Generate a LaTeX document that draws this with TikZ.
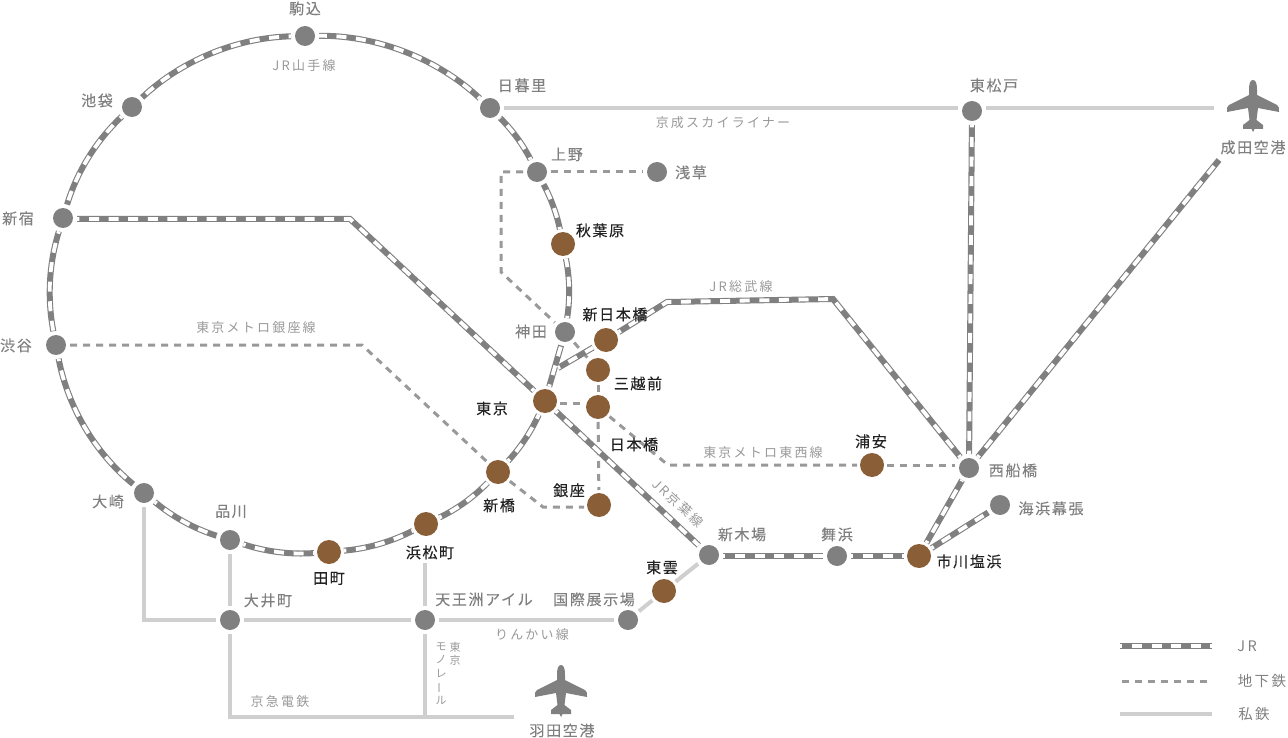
\documentclass[tikz,border=0pt]{standalone}
\usepackage{fontspec}
\usepackage{graphicx}
\setmainfont{Noto Sans CJK JP}
\newfontfamily\jpa[LetterSpace=11,FakeBold=0.12]{Noto Sans CJK JP}
\newfontfamily\jpd[LetterSpace=11,FakeBold=0.3]{Noto Sans CJK JP}
\newfontfamily\jpb[LetterSpace=17]{Noto Sans CJK JP}
\definecolor{stg}{HTML}{808080}
\definecolor{stb}{HTML}{8A5F38}
\definecolor{pvt}{HTML}{CFCFCF}
\definecolor{sub}{HTML}{999999}
\definecolor{txg}{HTML}{808080}
\definecolor{txd}{HTML}{222222}
\definecolor{txs}{HTML}{999999}
\tikzset{
 gs/.style={circle,fill=stg,minimum size=20pt,inner sep=0,outer sep=4pt},
 bs/.style={circle,fill=stb,minimum size=24pt,inner sep=0,outer sep=3pt},
 jr/.style={draw=stg,line width=6pt,postaction={draw=white,line width=3.8pt,dash pattern=on 10pt off 9.6pt,dash phase=7.6pt}},
 subw/.style={draw=sub,line width=3pt,dash pattern=on 7pt off 6pt},
 pv/.style={draw=pvt,line width=4pt},
 lg/.style={font=\jpa\fontsize{15}{15}\selectfont,text=txg,inner sep=0,yshift=-0.4pt},
 ld/.style={font=\jpd\fontsize{15}{15}\selectfont,text=txd,inner sep=0,yshift=-0.4pt},
 ls/.style={font=\jpb\fontsize{13}{13}\selectfont,text=txs,inner sep=0},
 lk/.style={font=\jpb\fontsize{14.5}{14.5}\selectfont,text=txg,inner sep=0},
 plane/.pic={\fill[stg] (0,0) .. controls (3,0) and (4,4) .. (4,10) -- (4,15) -- (24,25) .. controls (26,26) and (26,28) .. (26,32) -- (5,28) -- (4,36) -- (3.5,40) -- (10,45) -- (10,49) -- (1.5,49) -- (0,52) -- (-1.5,49) -- (-10,49) -- (-10,45) -- (-3.5,40) -- (-4,36) -- (-5,28) -- (-26,32) .. controls (-26,28) and (-26,26) .. (-24,25) -- (-4,15) -- (-4,10) .. controls (-4,4) and (-3,0) .. (0,0) -- cycle;}
}
\begin{document}
\begin{tikzpicture}[x=1pt,y=-1pt]
\useasboundingbox (0,0) rectangle (1288,738);
% stations
\node[gs] (komagome) at (305,36) {};
\node[gs] (ikebukuro) at (132,107) {};
\node[gs] (shinjuku) at (63,218) {};
\node[gs] (shibuya) at (56,345) {};
\node[gs] (osaki) at (144,493) {};
\node[gs] (shinagawa) at (230,540) {};
\node[bs] (tamachi) at (329,552) {};
\node[bs] (hamamatsu) at (426,524) {};
\node[bs] (shimbashi) at (498,472) {};
\node[bs] (tokyo) at (545,401) {};
\node[gs] (kanda) at (565,332) {};
\node[bs] (akiba) at (563,244) {};
\node[gs] (ueno) at (537,172) {};
\node[gs] (nippori) at (490,108) {};
\node[gs] (asakusa) at (657,172) {};
\node[gs] (higashimatsudo) at (972,111) {};
\node[bs] (shinnihombashi) at (606,340) {};
\node[bs] (mitsukoshi) at (598,370) {};
\node[bs] (nihombashi) at (598,407) {};
\node[bs] (ginza) at (599,505) {};
\node[bs] (urayasu) at (872,465) {};
\node[gs] (nishifunabashi) at (969,468) {};
\node[gs] (makuhari) at (1000,505) {};
\node[bs] (ichikawa) at (919,556) {};
\node[gs] (maihama) at (837,556) {};
\node[gs] (shinkiba) at (709,555) {};
\node[bs] (shinonome) at (664,591) {};
\node[gs] (kokusai) at (628,620) {};
\node[gs] (tennozu) at (425,620) {};
\node[gs] (oimachi) at (230,620) {};
% free ends and bends
\coordinate (narita1) at (1214,108);
\coordinate (narita2) at (1219,160);
\coordinate (haneda1) at (514,717);
\coordinate (c1) at (144,620);
\coordinate (c2) at (230,717);
\coordinate (c3) at (425,717);
\coordinate (c4) at (501,172);
\coordinate (c5) at (501,272);
\coordinate (c6) at (668,465);
\coordinate (c7) at (362,345);
\coordinate (c8) at (543,507);
\coordinate (c9) at (350,219);
\coordinate (c10) at (558,368);
\coordinate (c11) at (667,302);
\coordinate (c12) at (833,299);
% private
\draw[pv] (nippori.east |- 0,108) -- (higashimatsudo.west |- 0,108);
\draw[pv] (higashimatsudo.east |- 0,108) -- (narita1);
\draw[pv] (osaki) -- (c1) -- (oimachi);
\draw[pv] (shinagawa) -- (oimachi);
\draw[pv] (oimachi) -- (tennozu);
\draw[pv] (tennozu) -- (kokusai);
\draw[pv] (kokusai) -- (shinonome);
\draw[pv] (shinonome) -- (shinkiba);
\draw[pv] (oimachi) -- (c2) -- (haneda1);
\draw[pv,shorten <=24pt] (hamamatsu.south -| tennozu) -- (tennozu);
\draw[pv] (tennozu) -- (c3);
% subway
\draw[subw] (ueno) -- (asakusa);
\draw[subw] (ueno) -- (c4) -- (c5) -- (kanda);
\draw[subw] (kanda) -- (mitsukoshi);
\draw[subw] (mitsukoshi) -- (nihombashi);
\draw[subw] (nihombashi) -- (ginza);
\draw[subw] (tokyo.east |- 0,403) -- (nihombashi.west |- 0,403);
\draw[subw] (nihombashi) -- (c6) -- (urayasu);
\draw[subw] (urayasu.east |- 0,465.5) -- (nishifunabashi.west |- 0,465.5);
\draw[subw] (shibuya) -- (c7) -- (shimbashi);
\draw[subw] (shimbashi) -- (c8) -- (ginza.west |- c8);
% JR ring
\begin{scope}[looseness=0.86]
\draw[jr] (komagome) to[bend right=21] (ikebukuro);
\draw[jr] (ikebukuro) to[bend right=15] (shinjuku);
\draw[jr] (shinjuku) to[bend right=14] (shibuya);
\draw[jr] (shibuya) to[bend right=20] (osaki);
\draw[jr] (osaki) to[bend right=11] (shinagawa);
\draw[jr] (shinagawa) to[bend right=11] (tamachi);
\draw[jr] (tamachi) to[bend right=11] (hamamatsu);
\draw[jr] (hamamatsu) to[bend right=10] (shimbashi);
\draw[jr] (shimbashi) to[bend right=9] (tokyo);
\draw[jr] (kanda) to[bend right=10] (akiba);
\draw[jr] (akiba) to[bend right=8] (ueno);
\draw[jr] (ueno) to[bend right=9] (nippori);
\draw[jr] (nippori) to[bend right=22] (komagome);
\end{scope}
\draw[jr] (tokyo) -- (kanda);
% JR others
\draw[jr] (shinjuku.east |- c9) -- (c9) -- (tokyo);
\draw[jr] (tokyo) -- (shinkiba);
\draw[jr] (shinkiba.east |- 0,556) -- (maihama);
\draw[jr] (maihama) -- (ichikawa);
\draw[jr] (ichikawa) -- (nishifunabashi);
\draw[jr] (ichikawa) -- (makuhari);
\draw[jr] (higashimatsudo) -- (nishifunabashi);
\draw[jr] (nishifunabashi) -- (narita2);
\draw[jr] (c10) -- (shinnihombashi);
\draw[jr] (shinnihombashi) -- (c11) -- (c12) -- (nishifunabashi);
% planes
\pic at (1253,80) {plane};
\pic at (561,665) {plane};
% labels
\node[lg] (t1) at (305,8) {駒込};
\node[lg] (t2) at (97,100) {池袋};
\node[lg] (t3) at (522,85) {日暮里};
\node[lg] (t4) at (994,85) {東松戸};
\node[lg] (t5) at (1253,147) {成田空港};
\node[lg] (t6) at (567,154) {上野};
\node[lg] (t7) at (691,172) {浅草};
\node[lg] (t8) at (18,218) {新宿};
\node[ld] (t9) at (600,230) {秋葉原};
\node[ld] (t10) at (615,314) {新日本橋};
\node[lg] (t11) at (531,331) {神田};
\node[lg] (t12) at (16,345) {渋谷};
\node[ld] (t13) at (638,383) {三越前};
\node[ld] (t14) at (492,408) {東京};
\node[ld] (t15) at (634,444) {日本橋};
\node[ld] (t16) at (871,441) {浦安};
\node[lg] (t17) at (1013,470) {西船橋};
\node[lg] (t18) at (1051,508) {海浜幕張};
\node[lg] (t19) at (108,501) {大崎};
\node[lg] (t20) at (231,511) {品川};
\node[ld] (t21) at (499,505) {新橋};
\node[ld] (t22) at (569,490) {銀座};
\node[lg] (t23) at (742,534) {新木場};
\node[lg] (t24) at (837,534) {舞浜};
\node[ld] (t25) at (662,567) {東雲};
\node[ld] (t26) at (969,561) {市川塩浜};
\node[ld] (t27) at (329,578) {田町};
\node[ld] (t28) at (430,552) {浜松町};
\node[lg] (t29) at (484,599) {天王洲アイル};
\node[lg] (t30) at (594,599) {国際展示場};
\node[lg] (t31) at (268,600) {大井町};
\node[lg] (t32) at (562,730) {羽田空港};
\node[ls] (s1) at (304,66) {JR山手線};
\node[ls] (s2) at (723,123) {京成スカイライナー};
\node[ls] (s3) at (741,287) {JR総武線};
\node[ls] (s4) at (256,328) {東京メトロ銀座線};
\node[ls] (s5) at (763,453) {東京メトロ東西線};
\node[ls,rotate=-43] (s6) at (678,503) {JR京葉線};
\node[ls] (s7) at (532,635) {りんかい線};
\node[ls] (s8) at (280,702) {京急電鉄};
\node[font=\fontsize{11}{13}\selectfont,text=txs,inner sep=0,align=center,anchor=north] (s9) at (455,642) {東\\京};
\node[font=\fontsize{11}{13.5}\selectfont,text=txs,inner sep=0,align=center,anchor=north] (s10) at (441,642) {モ\\ノ\\レ\\\rotatebox[origin=c]{90}{ー}\\ル};
% legend
\coordinate (g1) at (1120,646); \coordinate (g2) at (1212,646);
\coordinate (g3) at (1122,681); \coordinate (g4) at (1212,681);
\coordinate (g5) at (1120,714); \coordinate (g6) at (1212,714);
\draw[jr] (g1) -- (g2);
\draw[subw] (g3) -- (g4);
\draw[pv] (g5) -- (g6);
\node[lk] (k1) at (1247,646) {JR};
\node[lk] (k2) at (1262,681) {地下鉄};
\node[lk] (k3) at (1254,714) {私鉄};
\end{tikzpicture}
\end{document}
